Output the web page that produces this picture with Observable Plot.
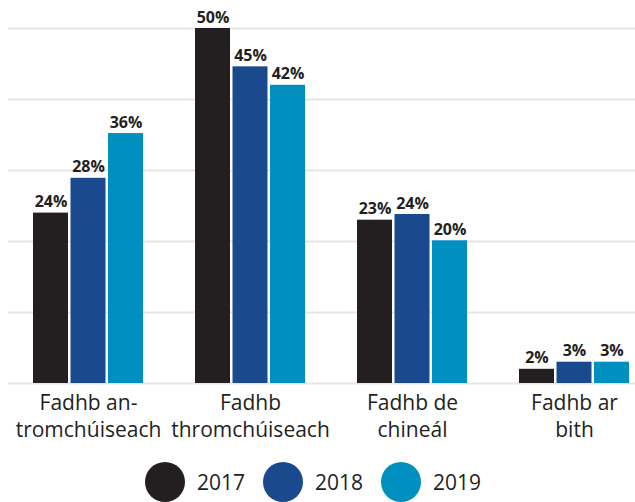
<!DOCTYPE html>
<html>
<head>
<meta charset="utf-8">
<script src="https://cdn.jsdelivr.net/npm/d3@7"></script>
<script src="https://cdn.jsdelivr.net/npm/@observablehq/plot@0.6"></script>
<style>
  html, body { margin: 0; padding: 0; background: #fff; }
  body { width: 635px; font-family: "Open Sans", sans-serif; }
  #legend { display: flex; justify-content: center; align-items: center; padding-top: 12px; padding-right: 9px; color: #231f20; font-size: 21px; }
  .item { display: flex; align-items: center; margin: 0 9px; }
  .dot { width: 40px; height: 40px; border-radius: 50%; margin-right: 12px; }
</style>
</head>
<body>
<div id="chart"></div>
<div id="legend"></div>
<script>
const categories = ["Fadhb an-tromchúiseach", "Fadhb thromchúiseach", "Fadhb de chineál", "Fadhb ar bith"];
const categoryLabels = ["Fadhb an-\ntromchúiseach", "Fadhb\nthromchúiseach", "Fadhb de\nchineál", "Fadhb ar\nbith"];
const years = ["2017", "2018", "2019"];
// bar heights as drawn in the picture (%)
const values2017 = [24, 50, 23, 2];
const values2018 = [28.9, 44.6, 23.8, 3];
const values2019 = [35.2, 42, 20.1, 3];
// value labels as printed
const labels2017 = ["24%", "50%", "23%", "2%"];
const labels2018 = ["28%", "45%", "24%", "3%"];
const labels2019 = ["36%", "42%", "20%", "3%"];
const colors = ["#231f20", "#1a4a8d", "#0090c0"];
const gridTicks = [0, 10, 20, 30, 40, 50];

const series = [values2017, values2018, values2019];
const seriesLabels = [labels2017, labels2018, labels2019];
const data = [];
years.forEach((yr, i) => categories.forEach((c, j) => data.push({category: c, year: yr, value: series[i][j], label: seriesLabels[i][j]})));

const bw = 110, step = 37.5, barW = 35;
const marks = [
  Plot.ruleY(gridTicks, {stroke: "#e6e6e6", strokeWidth: 2})
];
years.forEach((yr, i) => {
  const sub = data.filter(d => d.year === yr);
  marks.push(Plot.barY(sub, {
    x: "category", y: "value", fill: colors[i],
    insetLeft: i * step, insetRight: bw - barW - i * step
  }));
  marks.push(Plot.text(sub, {
    x: "category", y: "value", text: "label",
    dx: (i - 1) * step, dy: -6, lineAnchor: "bottom",
    fontSize: 16, fontWeight: "bold", fill: "#231f20"
  }));
});
marks.push(Plot.text(categories, {
  x: d => d, y: 0, text: d => categoryLabels[categories.indexOf(d)],
  lineAnchor: "top", dy: 8, fontSize: 21, lineHeight: 1.26, fill: "#231f20"
}));

const chart = Plot.plot({
  width: 635,
  height: 450,
  marginTop: 28,
  marginBottom: 67,
  marginLeft: 8,
  marginRight: 0,
  style: {fontFamily: "Open Sans", background: "#fff"},
  x: {domain: categories, range: [32, 629], paddingInner: 0.322, paddingOuter: 0, axis: null},
  y: {domain: [0, 50], axis: null},
  marks
});
document.getElementById("chart").appendChild(chart);

const legend = document.getElementById("legend");
years.forEach((yr, i) => {
  const item = document.createElement("div");
  item.className = "item";
  const dot = document.createElement("span");
  dot.className = "dot";
  dot.style.background = colors[i];
  const label = document.createElement("span");
  label.textContent = yr;
  item.appendChild(dot);
  item.appendChild(label);
  legend.appendChild(item);
});
</script>
</body>
</html>
